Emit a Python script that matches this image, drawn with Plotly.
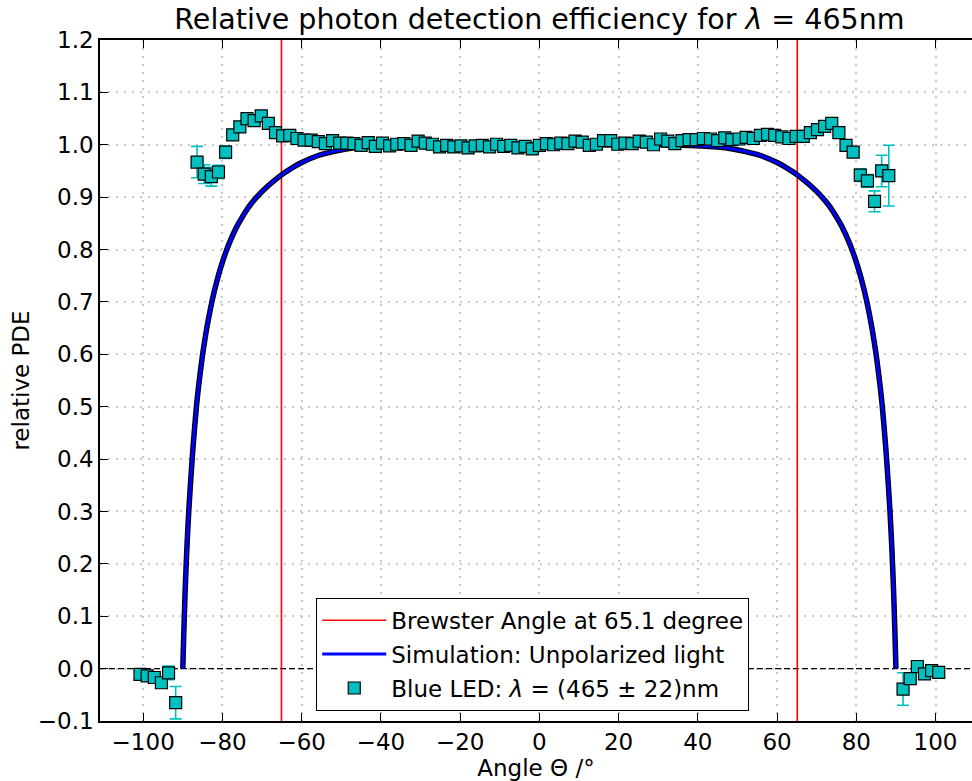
import plotly.graph_objects as go

# ---------------- data ----------------
# measured relative PDE (blue LED) : angle [deg], value, error
meas_angle = [-100.8, -99.0, -97.2, -95.4, -93.6, -91.8,
              -86.4, -84.6, -82.8, -81.0, -79.2, -77.4, -75.6, -73.8, -72.0, -70.2,
              -68.4, -66.6, -64.8, -63.0, -61.2, -59.4, -57.6, -55.8, -54.0, -52.2,
              -50.4, -48.6, -46.8, -45.0, -43.2, -41.4, -39.6, -37.8, -36.0, -34.2,
              -32.4, -30.6, -28.8, -27.0, -25.2, -23.4, -21.6, -19.8, -18.0, -16.2,
              -14.4, -12.6, -10.8, -9.0, -7.2, -5.4, -3.6, -1.8, 0.0, 1.8,
              3.6, 5.4, 7.2, 9.0, 10.8, 12.6, 14.4, 16.2, 18.0, 19.8,
              21.6, 23.4, 25.2, 27.0, 28.8, 30.6, 32.4, 34.2, 36.0, 37.8,
              39.6, 41.4, 43.2, 45.0, 46.8, 48.6, 50.4, 52.2, 54.0, 55.8,
              57.6, 59.4, 61.2, 63.0, 64.8, 66.6, 68.4, 70.2, 72.0, 73.8,
              75.6, 77.4, 79.2, 81.0, 82.8, 84.6, 86.4, 88.2,
              91.8, 93.6, 95.4, 97.2, 99.0, 100.8]
meas_pde = [-0.011, -0.014, -0.017, -0.027, -0.008, -0.065,
            0.967, 0.944, 0.939, 0.948, 0.986, 1.019, 1.034, 1.050, 1.046, 1.055,
            1.041, 1.023, 1.017, 1.018, 1.012, 1.009, 1.009, 1.006, 1.002, 1.008,
            1.003, 1.003, 1.002, 0.999, 1.004, 0.997, 1.003, 0.998, 1.001, 1.002,
            0.999, 1.007, 1.003, 1.001, 0.996, 0.999, 0.996, 0.998, 0.994, 0.998,
            0.999, 0.996, 1.001, 0.997, 0.999, 0.994, 0.997, 0.992, 0.999, 1.002,
            1.000, 1.003, 1.002, 1.007, 1.005, 0.999, 1.001, 1.008, 1.008, 1.001,
            1.003, 1.002, 1.007, 1.005, 1.000, 1.011, 1.007, 1.002, 1.008, 1.010,
            1.010, 1.012, 1.011, 1.008, 1.013, 1.010, 1.011, 1.014, 1.012, 1.018,
            1.020, 1.018, 1.015, 1.012, 1.016, 1.016, 1.023, 1.029, 1.035, 1.041,
            1.023, 0.999, 0.986, 0.942, 0.931, 0.892, 0.950, 0.941,
            -0.039, -0.019, 0.004, -0.010, -0.004, -0.007]
meas_err = [0.004, 0.004, 0.004, 0.004, 0.013, 0.031,
            0.030, 0.018, 0.018, 0.013, 0.012, 0.006, 0.005, 0.005, 0.005, 0.005,
            0.005, 0.005, 0.005, 0.005, 0.005, 0.005, 0.005, 0.005, 0.005, 0.005,
            0.005, 0.005, 0.005, 0.005, 0.005, 0.005, 0.005, 0.005, 0.005, 0.005,
            0.005, 0.005, 0.005, 0.005, 0.005, 0.005, 0.005, 0.005, 0.005, 0.005,
            0.005, 0.005, 0.005, 0.005, 0.005, 0.005, 0.005, 0.005, 0.005, 0.005,
            0.005, 0.005, 0.005, 0.005, 0.005, 0.005, 0.005, 0.005, 0.005, 0.005,
            0.005, 0.005, 0.005, 0.005, 0.005, 0.005, 0.005, 0.005, 0.005, 0.005,
            0.005, 0.005, 0.005, 0.005, 0.005, 0.005, 0.005, 0.005, 0.005, 0.005,
            0.005, 0.005, 0.005, 0.005, 0.005, 0.005, 0.005, 0.005, 0.005, 0.005,
            0.005, 0.006, 0.008, 0.012, 0.012, 0.020, 0.030, 0.058,
            0.031, 0.010, 0.004, 0.004, 0.004, 0.004]

# simulation: unpolarized light
sim_angle = [-90.0, -89.7, -89.4, -89.0, -88.5, -88.0, -87.5, -87.0, -86.5, -86.0,
             -85.0, -84.0, -83.0, -82.0, -81.0, -80.0, -79.0, -78.0, -77.0, -76.0,
             -75.0, -74.0, -73.0, -71.0, -69.0, -67.0, -65.0, -63.0, -60.0, -56.0,
             -52.0, -48.0, -42.0, -36.0, -30.0, -20.0, -10.0,
             0.0, 10.0, 20.0, 30.0, 36.0, 42.0, 48.0, 52.0, 56.0, 60.0,
             63.0, 65.0, 67.0, 69.0, 71.0, 73.0, 74.0, 75.0, 76.0, 77.0,
             78.0, 79.0, 80.0, 81.0, 82.0, 83.0, 84.0, 85.0, 86.0, 86.5,
             87.0, 87.5, 88.0, 88.5, 89.0, 89.4, 89.7, 90.0]
sim_pde = [0.000, 0.080, 0.150, 0.225, 0.300, 0.360, 0.415, 0.462, 0.505, 0.540,
           0.600, 0.648, 0.688, 0.722, 0.751, 0.776, 0.798, 0.817, 0.834, 0.849,
           0.862, 0.874, 0.885, 0.903, 0.918, 0.931, 0.943, 0.953, 0.966, 0.979,
           0.987, 0.993, 0.997, 0.999, 1.000, 1.000, 1.000,
           1.000, 1.000, 1.000, 1.000, 0.999, 0.997, 0.993, 0.987, 0.979, 0.966,
           0.953, 0.943, 0.931, 0.918, 0.903, 0.885, 0.874, 0.862, 0.849, 0.834,
           0.817, 0.798, 0.776, 0.751, 0.722, 0.688, 0.648, 0.600, 0.540, 0.505,
           0.462, 0.415, 0.360, 0.300, 0.225, 0.150, 0.080, 0.000]

brewster_angle = [-65.1, 65.1]
x_range = [-110.9, 109.2]
y_range = [-0.1, 1.2]
x_ticks = [-100, -80, -60, -40, -20, 0, 20, 40, 60, 80, 100]
y_ticks = [-0.1, 0.0, 0.1, 0.2, 0.3, 0.4, 0.5, 0.6, 0.7, 0.8, 0.9, 1.0, 1.1, 1.2]

FONT = "DejaVu Sans"
CYAN = "#00BFBF"
GRID = "#c8c8c8"

fig = go.Figure()

# zero line (dashed)
fig.add_trace(go.Scatter(x=x_range, y=[0, 0], mode="lines",
                         line=dict(color="black", width=1.3, dash="6px,3px"),
                         showlegend=False, hoverinfo="skip"))

# Brewster angle lines
for i, a in enumerate(brewster_angle):
    fig.add_trace(go.Scatter(x=[a, a], y=y_range, mode="lines",
                             line=dict(color="#ff0000", width=1.6),
                             name="Brewster Angle at 65.1 degree",
                             legendgroup="g1", showlegend=(i == 0)))

# simulation (black outline + blue)
fig.add_trace(go.Scatter(x=sim_angle, y=sim_pde, mode="lines",
                         line=dict(color="black", width=5.5, shape="spline", smoothing=0.5),
                         showlegend=False, hoverinfo="skip"))
fig.add_trace(go.Scatter(x=sim_angle, y=sim_pde, mode="lines",
                         line=dict(color="#0000ff", width=3, shape="spline", smoothing=0.5),
                         name="Simulation: Unpolarized light", legendgroup="g2"))

# measurement
fig.add_trace(go.Scatter(x=meas_angle, y=meas_pde, mode="markers",
                         marker=dict(symbol="square", size=12, color=CYAN,
                                     line=dict(color="black", width=1.2)),
                         error_y=dict(type="data", array=meas_err, visible=True,
                                      color=CYAN, thickness=1.6, width=6),
                         name="Blue LED: <i>λ</i> = (465 ± 22)nm", legendgroup="g3"))

fig.update_layout(
    width=972, height=781,
    margin=dict(l=100, r=0, t=40, b=60),
    paper_bgcolor="white", plot_bgcolor="white",
    font=dict(family=FONT, size=23, color="black"),
    title=dict(text="Relative photon detection efficiency for <i>λ</i> = 465nm",
               x=0.555, xanchor="center", y=0.976, yanchor="middle",
               font=dict(family=FONT, size=28.5)),
    legend=dict(x=0.248, y=0.181, xanchor="left", yanchor="top",
                bgcolor="white", bordercolor="black", borderwidth=1,
                font=dict(family=FONT, size=23), tracegroupgap=1, itemwidth=64),
    showlegend=True,
)

fig.update_xaxes(range=x_range, tickvals=x_ticks, ticks="inside", ticklen=8,
                 tickcolor="black", showline=True, linecolor="black", linewidth=1.5,
                 mirror="ticks", showgrid=True, gridcolor=GRID, griddash="2px,6px",
                 gridwidth=1.5, zeroline=False, tickfont=dict(size=23),
                 title=dict(text="Angle Θ /°", standoff=4, font=dict(size=23)))
fig.update_yaxes(range=y_range, tickvals=y_ticks, tickformat=".1f", ticks="inside",
                 ticklen=8, tickcolor="black", showline=True, linecolor="black",
                 linewidth=1.5, mirror=False, showgrid=True, gridcolor=GRID,
                 griddash="2px,6px", gridwidth=1.5, zeroline=False, tickfont=dict(size=23),
                 title=dict(text="relative PDE", standoff=2, font=dict(size=23)))

fig.write_html("out.html")
